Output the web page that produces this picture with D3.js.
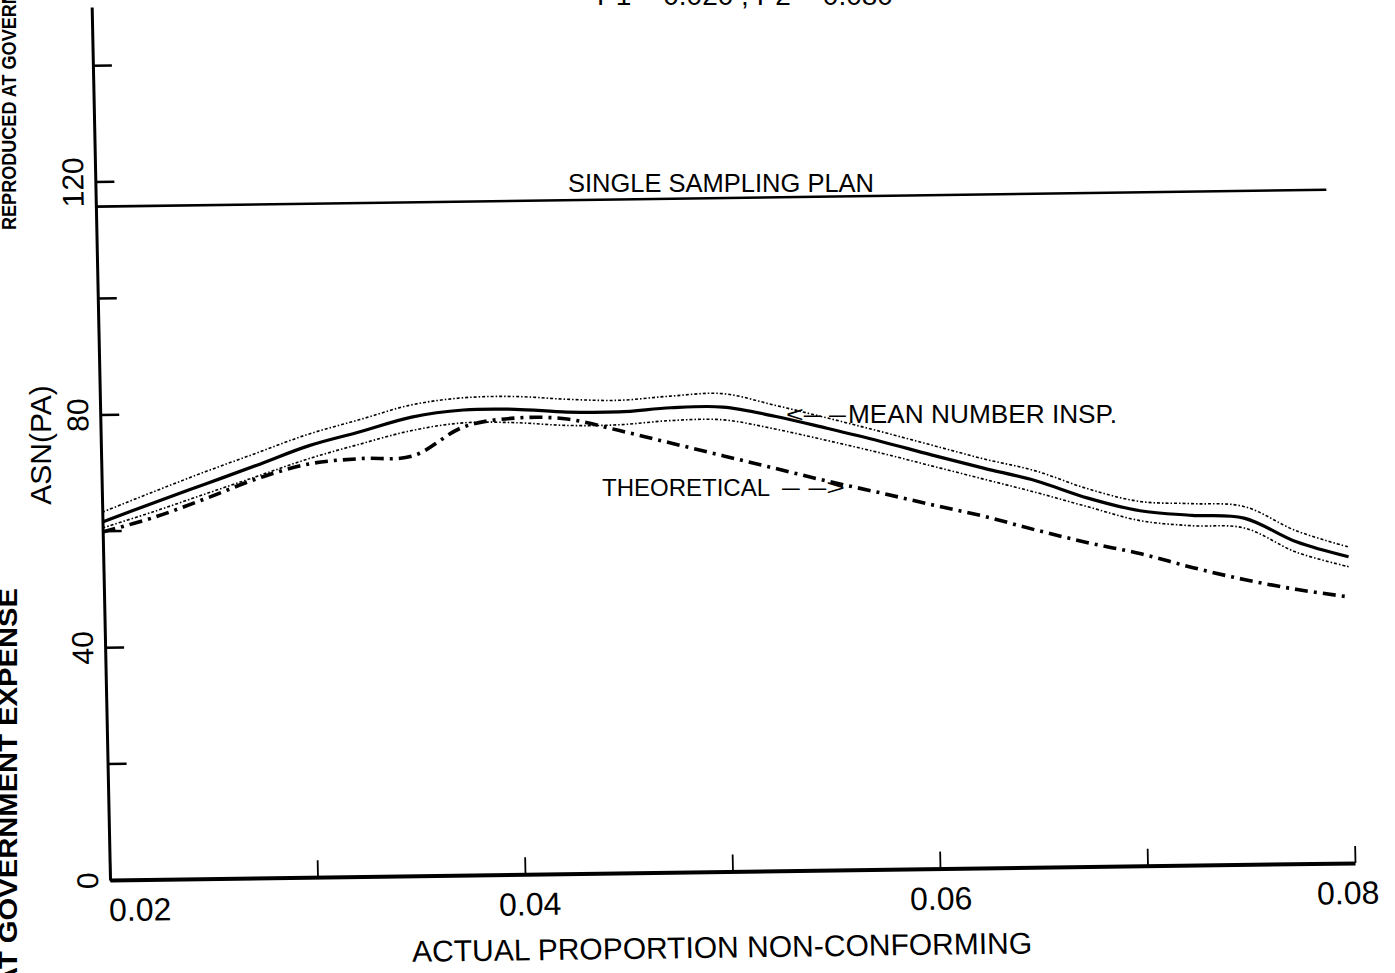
<!DOCTYPE html>
<html>
<head>
<meta charset="utf-8">
<script src="https://cdn.jsdelivr.net/npm/d3@7"></script>
<style>
  body { margin: 0; background: #fff; }
  text { font-family: "Liberation Sans", Arial, sans-serif; fill: #000; }
</style>
</head>
<body>
<div id="chart"></div>
<script>
// data
var pNC = [0.02, 0.0225, 0.025, 0.0275, 0.03, 0.0325, 0.035, 0.0375, 0.04, 0.0425,
           0.045, 0.0475, 0.05, 0.0525, 0.055, 0.0575, 0.06, 0.0625, 0.065, 0.0675,
           0.07, 0.0725, 0.075, 0.0775, 0.08];
var meanASN  = [61.5, 64.7, 67.8, 70.9, 74.1, 76.4, 78.8, 79.9, 79.9, 79.3, 79.2, 79.8, 79.8,
                78.1, 75.9, 73.6, 71.1, 68.7, 66.4, 63.3, 61.0, 60.1, 59.5, 55.3, 52.6];
var upperASN = [63.2, 66.6, 69.9, 73.0, 76.1, 78.5, 80.9, 82.0, 82.1, 81.5, 81.2, 81.8, 82.1,
                80.0, 77.7, 75.3, 72.8, 70.3, 68.1, 64.9, 62.6, 62.1, 61.5, 57.2, 54.3];
var lowerASN = [60.5, 63.2, 66.1, 69.0, 71.9, 74.3, 76.5, 77.7, 77.6, 77.0, 77.0, 77.6, 77.6,
                75.9, 73.8, 71.6, 69.2, 66.8, 64.4, 61.8, 59.3, 58.3, 57.8, 53.5, 50.9];
var theoASN  = [59.8, 62.2, 65.3, 68.6, 71.0, 71.8, 72.1, 77.0, 78.4, 78.1, 76.0, 73.7, 71.4,
                69.1, 66.8, 64.7, 62.5, 60.4, 57.9, 55.6, 53.6, 51.1, 48.9, 47.1, 45.7];
var singleX   = [0.02, 0.0793];
var singleASN = [115.7, 115.7];

var xTicks = [0.02, 0.03, 0.04, 0.05, 0.06, 0.07, 0.08];
var xLabels = ["0.02", "", "0.04", "", "0.06", "", "0.08"];
var yTicks = [0, 20, 40, 60, 80, 100, 120, 140];
var yLabels = ["0", "", "40", "", "80", "", "120", ""];

var W = 1395, H = 973;
var plotW = 1245, plotH = 873;

var svg = d3.select("#chart").append("svg")
    .attr("width", W)
    .attr("height", H);

// the scan is a little skewed, so the plot frame is too
var g = svg.append("g")
    .attr("transform", "matrix(1,-0.0137,0.021,1,110,880)");

var x = d3.scaleLinear().domain([0.02, 0.08]).range([0, plotW]);
var y = d3.scaleLinear().domain([0, 150]).range([0, -plotH]);

// x axis
var xShift = [29, 0, 4, 0, 0, 0, -8];
var xAxis = g.append("g")
    .call(d3.axisBottom(x)
      .tickValues(xTicks)
      .tickSizeInner(-17)
      .tickSizeOuter(0)
      .tickPadding(41)
      .tickFormat(function(d, i) { return xLabels[i]; }));
xAxis.select(".domain").attr("stroke", "#000").attr("stroke-width", 4);
xAxis.selectAll(".tick line").attr("stroke", "#000").attr("stroke-width", 1.8);
xAxis.selectAll(".tick text")
    .attr("font-size", 32)
    .attr("font-family", "Liberation Sans, Arial, sans-serif")
    .attr("dy", 0)
    .attr("dx", function(d, i) { return xShift[i]; });

// y axis
var yAxis = g.append("g")
    .call(d3.axisLeft(y)
      .tickValues(yTicks)
      .tickSizeInner(-19)
      .tickSizeOuter(0)
      .tickFormat(function(d, i) { return yLabels[i]; }));
yAxis.select(".domain").attr("stroke", "#000").attr("stroke-width", 3);
yAxis.selectAll(".tick line").attr("stroke", "#000").attr("stroke-width", 2.5);
yAxis.selectAll(".tick text")
    .attr("font-size", 30)
    .attr("font-family", "Liberation Sans, Arial, sans-serif")
    .attr("text-anchor", "middle")
    .attr("transform", "rotate(-90)")
    .attr("x", 0)
    .attr("y", -12)
    .attr("dy", 0);

// axis titles
g.append("text")
    .attr("x", x(0.05) - 12)
    .attr("y", 86)
    .attr("text-anchor", "middle")
    .attr("font-size", 30)
    .text("ACTUAL PROPORTION NON-CONFORMING");

svg.append("text")
    .attr("transform", "translate(51,445) rotate(-90)")
    .attr("text-anchor", "middle")
    .attr("font-size", 30)
    .text("ASN(PA)");

// lines
var line = d3.line()
    .x(function(d) { return x(d[0]); })
    .y(function(d) { return y(d[1]); })
    .curve(d3.curveCatmullRom.alpha(0.5));

function pairs(xs, ys) { return xs.map(function(v, i) { return [v, ys[i]]; }); }

g.append("path")
    .attr("d", line(pairs(singleX, singleASN)))
    .attr("fill", "none").attr("stroke", "#000").attr("stroke-width", 2.6);

g.append("path")
    .attr("d", line(pairs(pNC, upperASN)))
    .attr("fill", "none").attr("stroke", "#000").attr("stroke-width", 1.6)
    .attr("stroke-dasharray", "3,2,1.5,2");

g.append("path")
    .attr("d", line(pairs(pNC, lowerASN)))
    .attr("fill", "none").attr("stroke", "#000").attr("stroke-width", 1.6)
    .attr("stroke-dasharray", "3,2,1.5,2");

g.append("path")
    .attr("d", line(pairs(pNC, meanASN)))
    .attr("fill", "none").attr("stroke", "#000").attr("stroke-width", 3.2);

g.append("path")
    .attr("d", line(pairs(pNC, theoASN)))
    .attr("fill", "none").attr("stroke", "#000").attr("stroke-width", 3.6)
    .attr("stroke-dasharray", "13,6,3,6");

// annotations
svg.append("text")
    .attr("x", 721).attr("y", 192)
    .attr("text-anchor", "middle")
    .attr("font-size", 25.5)
    .text("SINGLE SAMPLING PLAN");

svg.append("text")
    .attr("x", 786).attr("y", 422)
    .attr("font-size", 22)
    .attr("textLength", 60)
    .attr("lengthAdjust", "spacingAndGlyphs")
    .text("<\u2013 \u2013");

svg.append("text")
    .attr("x", 848).attr("y", 423)
    .attr("font-size", 26)
    .attr("textLength", 269)
    .attr("lengthAdjust", "spacingAndGlyphs")
    .text("MEAN NUMBER INSP.");

svg.append("text")
    .attr("x", 602).attr("y", 496)
    .attr("font-size", 24)
    .attr("textLength", 168)
    .attr("lengthAdjust", "spacingAndGlyphs")
    .text("THEORETICAL");

svg.append("text")
    .attr("x", 782).attr("y", 495)
    .attr("font-size", 22)
    .attr("textLength", 63)
    .attr("lengthAdjust", "spacingAndGlyphs")
    .text("\u2013 \u2013>");

// cut-off heading at the top edge
svg.append("text")
    .attr("x", 745).attr("y", 5)
    .attr("text-anchor", "middle")
    .attr("font-size", 28)
    .text("P1 = 0.020 , P2 = 0.080");

// scanner stamps on the left edge
svg.append("text")
    .attr("transform", "translate(17,988) rotate(-90)")
    .attr("font-size", 25)
    .attr("font-weight", "bold")
    .attr("textLength", 400)
    .attr("lengthAdjust", "spacingAndGlyphs")
    .text("AT GOVERNMENT EXPENSE");

svg.append("text")
    .attr("transform", "translate(16,230) rotate(-90)")
    .attr("font-size", 21)
    .attr("font-weight", "bold")
    .attr("textLength", 290)
    .attr("lengthAdjust", "spacingAndGlyphs")
    .text("REPRODUCED AT GOVERNMENT");
</script>
</body>
</html>
